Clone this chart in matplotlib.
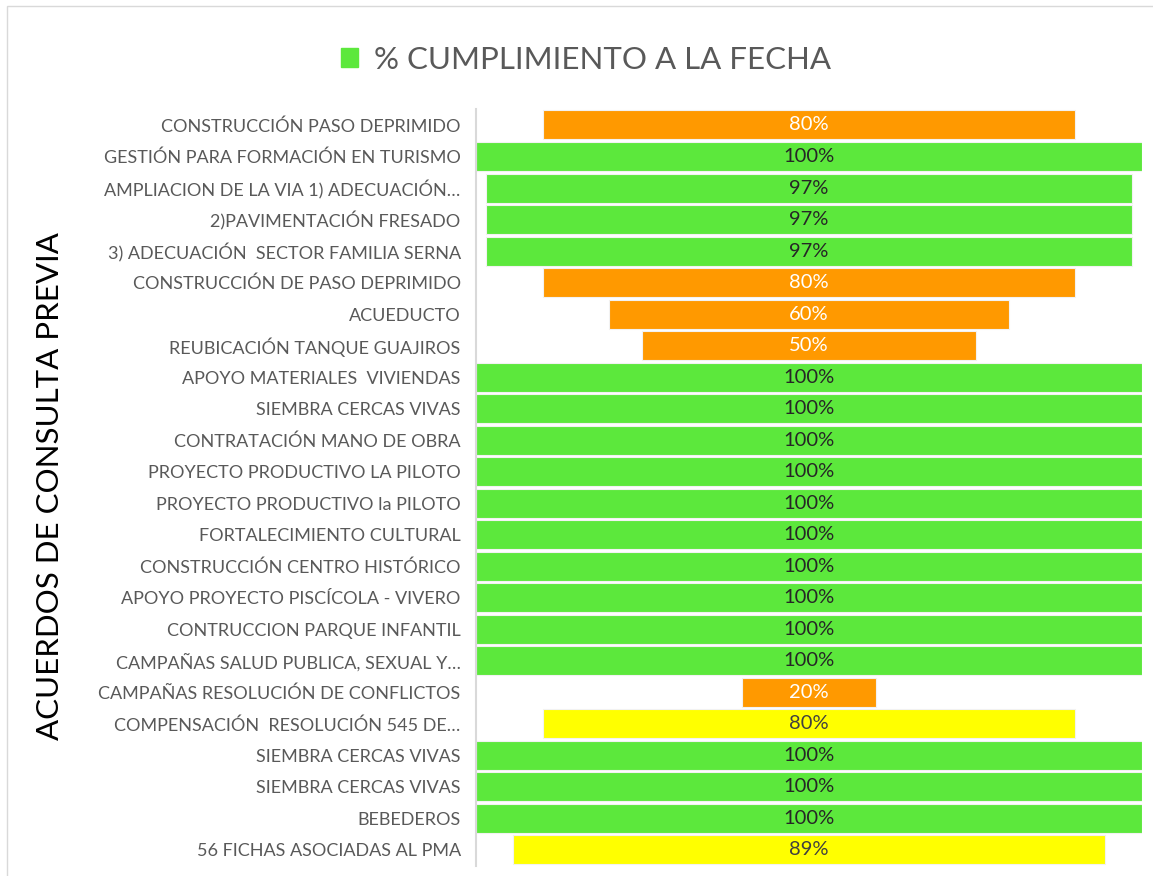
import matplotlib.pyplot as plt
from matplotlib.patches import Rectangle, Patch

plt.rcParams['font.family'] = ['Lato', 'DejaVu Sans']

# Datos
acuerdos = [
    "CONSTRUCCIÓN PASO DEPRIMIDO",
    "GESTIÓN PARA FORMACIÓN EN TURISMO",
    "AMPLIACION DE LA VIA 1) ADECUACIÓN…",
    "2)PAVIMENTACIÓN FRESADO",
    "3) ADECUACIÓN  SECTOR FAMILIA SERNA",
    "CONSTRUCCIÓN DE PASO DEPRIMIDO",
    "ACUEDUCTO",
    "REUBICACIÓN TANQUE GUAJIROS",
    "APOYO MATERIALES  VIVIENDAS",
    "SIEMBRA CERCAS VIVAS",
    "CONTRATACIÓN MANO DE OBRA",
    "PROYECTO PRODUCTIVO LA PILOTO",
    "PROYECTO PRODUCTIVO la PILOTO",
    "FORTALECIMIENTO CULTURAL",
    "CONSTRUCCIÓN CENTRO HISTÓRICO",
    "APOYO PROYECTO PISCÍCOLA - VIVERO",
    "CONTRUCCION PARQUE INFANTIL",
    "CAMPAÑAS SALUD PUBLICA, SEXUAL Y…",
    "CAMPAÑAS RESOLUCIÓN DE CONFLICTOS",
    "COMPENSACIÓN  RESOLUCIÓN 545 DE…",
    "SIEMBRA CERCAS VIVAS",
    "SIEMBRA CERCAS VIVAS",
    "BEBEDEROS",
    "56 FICHAS ASOCIADAS AL PMA",
]
cumplimiento = [80, 100, 97, 97, 97, 80, 60, 50, 100, 100, 100, 100,
                100, 100, 100, 100, 100, 100, 20, 80, 100, 100, 100, 89]
estado = ["o", "g", "g", "g", "g", "o", "o", "o", "g", "g", "g", "g",
          "g", "g", "g", "g", "g", "g", "o", "y", "g", "g", "g", "y"]

colores = {"g": "#5CE83C", "o": "#FF9900", "y": "#FFFF00"}
texto_col = {"g": "#262626", "o": "white", "y": "#404040"}

fig = plt.figure(figsize=(11.53, 8.76), dpi=100)
ax = fig.add_axes([0.4128, 0.0117, 0.5777, 0.8636])

y = list(range(len(acuerdos)))
lefts = [(100 - v) / 2 for v in cumplimiento]
ax.barh(y, cumplimiento, left=lefts, height=0.92,
        color=[colores[e] for e in estado], edgecolor="#F2F2F2", linewidth=0.8)

for yi, v, e in zip(y, cumplimiento, estado):
    ax.text(50, yi, f"{v}%", ha="center", va="center", fontsize=14.5,
            color=texto_col[e])

ax.set_xlim(0, 100)
ax.set_ylim(len(acuerdos) - 0.5, -0.5)
ax.set_yticks(y)
ax.set_yticklabels(acuerdos, fontsize=13, color="#595959")
ax.tick_params(axis="y", length=0, pad=11)
ax.set_xticks([])
for s in ["top", "right", "bottom"]:
    ax.spines[s].set_visible(False)
ax.spines["left"].set_color("#D9D9D9")
ax.spines["left"].set_linewidth(1.5)

fig.text(0.043, 0.445, "ACUERDOS DE CONSULTA PREVIA", rotation=90,
         ha="center", va="center", fontsize=22.5, color="black")

fig.legend(handles=[Patch(color=colores["g"], label="% CUMPLIMIENTO A LA FECHA")],
           loc="center", bbox_to_anchor=(0.508, 0.932), frameon=False,
           fontsize=22.5, labelcolor="#595959", handlelength=0.55, handleheight=0.55,
           handletextpad=0.5)

fig.patches.append(Rectangle((6.5 / 1153, -0.05), 1.1, 1.05 - 6.5 / 876,
                             transform=fig.transFigure, fill=False,
                             edgecolor="#D9D9D9", linewidth=1))

fig.savefig("out.png", dpi=100)
